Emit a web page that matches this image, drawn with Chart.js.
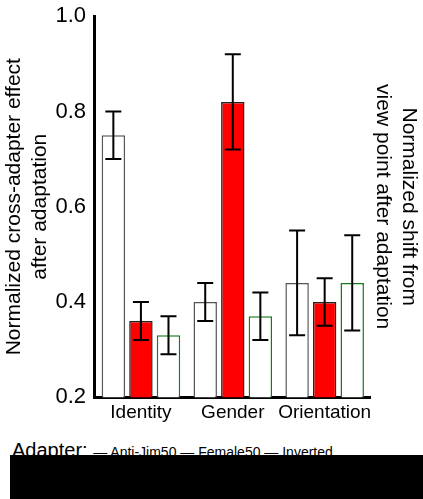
<!DOCTYPE html>
<html>
<head>
<meta charset="utf-8">
<script src="https://cdn.jsdelivr.net/npm/chart.js@4"></script>
<style>
  body { margin: 0; background: #fff; width: 423px; height: 499px; overflow: hidden; position: relative; font-family: "Liberation Sans", Arial, sans-serif; }
  #wrap { position: absolute; left: 0; top: 0; width: 423px; height: 428px; }
  #legend { position: absolute; left: 12px; top: 439px; font-size: 20px; color: #000; white-space: nowrap; }
  #legend span.sm { font-size: 14px; }
  #blackout { position: absolute; left: 10px; top: 455px; width: 413px; height: 44px; background: #000; }
</style>
</head>
<body>
<div id="wrap"><canvas id="chart" width="423" height="428"></canvas></div>
<div id="legend">Adapter: <span class="sm">&#8212; Anti-Jim50 &#8212; Female50 &#8212; Inverted</span></div>
<div id="blackout"></div>
<script>
// Categories and series
const categories = ['Identity', 'Gender', 'Orientation'];
const adapters = ['Anti-Jim50', 'Female50', 'Inverted'];
const antiJimValues = [0.75, 0.40, 0.44];
const antiJimErrors = [0.05, 0.04, 0.11];
const femaleValues = [0.36, 0.82, 0.40];
const femaleErrors = [0.04, 0.10, 0.05];
const invertedValues = [0.33, 0.37, 0.44];
const invertedErrors = [0.04, 0.05, 0.10];
const yTicks = [0.2, 0.4, 0.6, 0.8, 1.0];

const errorLists = [antiJimErrors, femaleErrors, invertedErrors];

// Draw error bars from the y scale
const errorBars = {
    id: 'errorBars',
    afterDatasetsDraw(chart) {
        const ctx = chart.ctx;
        const yScale = chart.scales.y;
        chart.data.datasets.forEach((ds, di) => {
            const meta = chart.getDatasetMeta(di);
            meta.data.forEach((bar, i) => {
                const v = ds.data[i];
                const e = errorLists[di][i];
                const yTop = yScale.getPixelForValue(v + e);
                const yBot = yScale.getPixelForValue(v - e);
                ctx.save();
                ctx.strokeStyle = '#000';
                ctx.lineWidth = 2;
                ctx.beginPath();
                ctx.moveTo(bar.x, yTop);
                ctx.lineTo(bar.x, yBot);
                ctx.moveTo(bar.x - 8, yTop);
                ctx.lineTo(bar.x + 8, yTop);
                ctx.moveTo(bar.x - 8, yBot);
                ctx.lineTo(bar.x + 8, yBot);
                ctx.stroke();
                ctx.restore();
            });
        });
    }
};

const ctx = document.getElementById('chart').getContext('2d');
new Chart(ctx, {
    type: 'bar',
    data: {
        labels: categories,
        datasets: [{
            label: adapters[0],
            data: antiJimValues,
            backgroundColor: '#ffffff',
            borderColor: '#555555',
            borderWidth: 1.5
        }, {
            label: adapters[1],
            data: femaleValues,
            backgroundColor: '#ff0000',
            borderColor: '#222222',
            borderWidth: 1.5
        }, {
            label: adapters[2],
            data: invertedValues,
            backgroundColor: '#ffffff',
            borderColor: '#1a7a1a',
            borderWidth: 1.5
        }]
    },
    options: {
        responsive: false,
        animation: false,
        layout: { padding: { top: 16, right: 2, left: 2, bottom: 0 } },
        categoryPercentage: 0.9,
        barPercentage: 0.85,
        plugins: {
            legend: { display: false },
            tooltip: { enabled: false }
        },
        scales: {
            x: {
                grid: { display: false, drawTicks: false },
                border: { color: '#000', width: 3 },
                ticks: {
                    color: '#000',
                    font: { size: 19, family: 'Liberation Sans' },
                    padding: 4,
                    maxRotation: 0,
                    minRotation: 0,
                    autoSkip: false
                }
            },
            y: {
                min: 0.2,
                max: 1.0,
                afterBuildTicks(axis) {
                    axis.ticks = yTicks.map(v => ({ value: v }));
                },
                grid: { display: false, drawTicks: true, tickLength: 6, tickColor: '#000', tickWidth: 2 },
                border: { color: '#000', width: 3 },
                ticks: {
                    color: '#000',
                    font: { size: 22, family: 'Liberation Sans' },
                    callback: v => Number(v).toFixed(1)
                },
                title: {
                    display: true,
                    text: ['Normalized cross-adapter effect', 'after adaptation'],
                    color: '#000',
                    font: { size: 21, family: 'Liberation Sans' },
                    padding: 0
                }
            },
            y2: {
                position: 'right',
                min: 0.2,
                max: 1.0,
                grid: { display: false, drawTicks: false },
                border: { display: false },
                ticks: { display: false },
                title: {
                    display: true,
                    text: ['Normalized shift from', 'view point after adaptation'],
                    color: '#000',
                    font: { size: 21, family: 'Liberation Sans' },
                    padding: 0
                }
            }
        }
    },
    plugins: [errorBars]
});
</script>
</body>
</html>
